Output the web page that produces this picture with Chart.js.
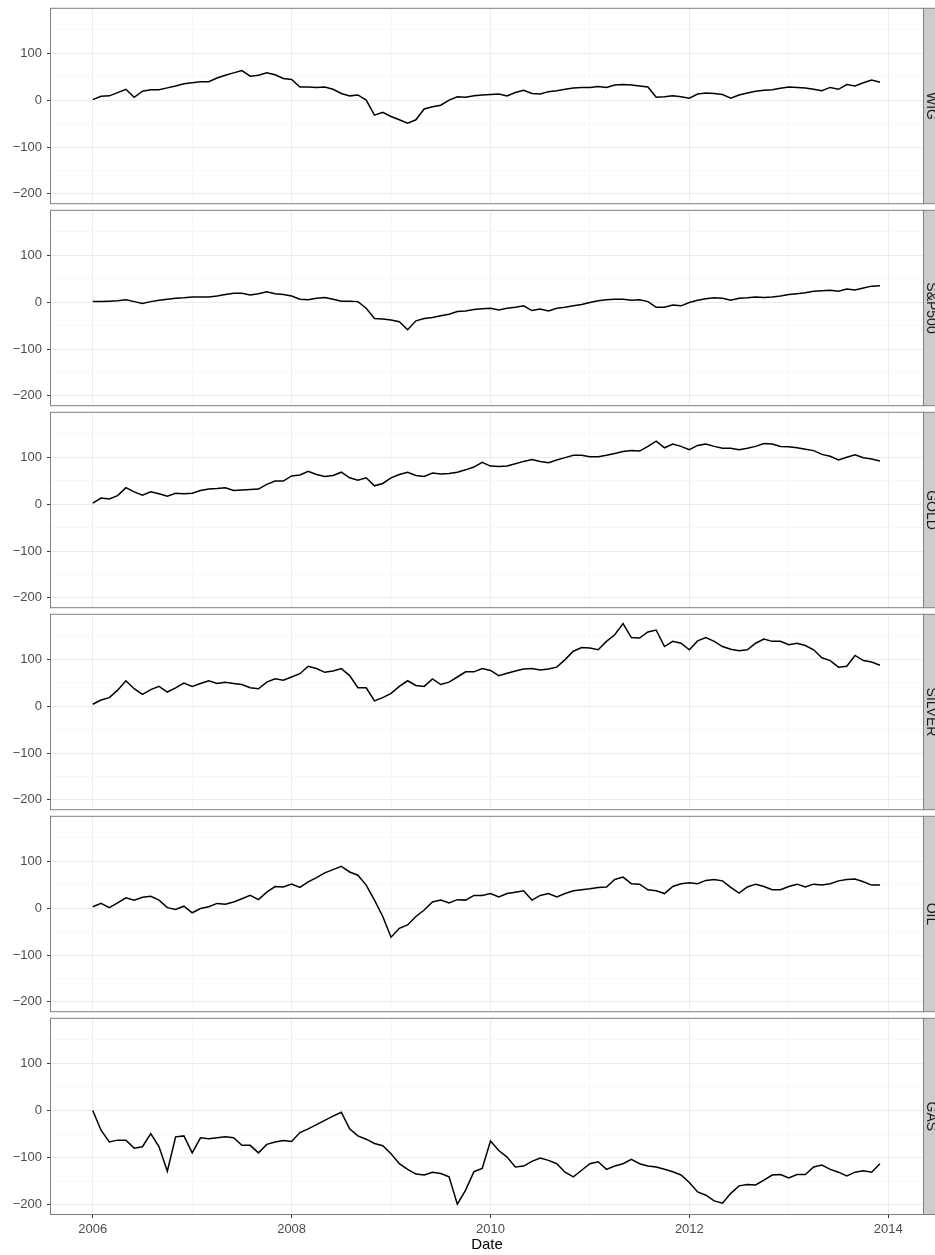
<!DOCTYPE html>
<html>
<head>
<meta charset="utf-8">
<script src="https://cdn.jsdelivr.net/npm/chart.js@4.4.1/dist/chart.umd.min.js"></script>
<style>
  body { margin: 0; background: #fff; width: 935px; height: 1255px; overflow: hidden; position: relative; }
  canvas { position: absolute; left: 0; }
</style>
</head>
<body>
<script>
// monthly observations, Jan 2006 .. Dec 2013 (% change since start)
var dates = [];
for (var m = 0; m < 96; m++) dates.push(2006 + m / 12);

var wig = [1, 8, 9, 16, 23, 6, 19, 22, 22, 26, 30, 35,
           37, 39, 39, 47, 53, 58, 63, 51, 53, 58, 54, 46,
           44, 28, 28, 27, 28, 23, 14, 9, 11, 0, -32, -26,
           -35, -42, -49, -42, -19, -14, -11, 0, 7, 6, 9, 11,
           12, 13, 9, 16, 21, 14, 13, 18, 20, 23, 26, 27,
           27, 29, 27, 32, 33, 32, 30, 28, 6, 7, 9, 7,
           4, 13, 15, 14, 12, 4, 11, 15, 19, 21, 22, 25,
           28, 27, 26, 23, 20, 27, 23, 33, 30, 37, 43, 38];

var sp500 = [1, 1, 2, 3, 5, 1, -3, 1, 4, 6, 8, 9,
             11, 11, 11, 13, 16, 19, 19, 15, 18, 22, 18, 16,
             13, 6, 5, 8, 10, 6, 2, 2, 1, -13, -35, -36,
             -38, -42, -59, -40, -35, -33, -29, -26, -20, -19, -16, -14,
             -13, -17, -13, -11, -8, -18, -15, -19, -13, -11, -8, -5,
             -1, 3, 5, 6, 6, 4, 5, 1, -11, -11, -6, -8,
             -1, 4, 7, 9, 8, 4, 8, 9, 11, 10, 11, 13,
             16, 18, 20, 23, 24, 25, 23, 28, 26, 30, 34, 35];

var gold = [2, 13, 11, 18, 35, 26, 19, 26, 22, 17, 23, 22,
            23, 29, 32, 33, 35, 29, 30, 31, 32, 42, 49, 49,
            60, 62, 70, 63, 59, 61, 68, 56, 51, 56, 39, 44,
            56, 63, 68, 61, 59, 66, 64, 65, 68, 73, 79, 89,
            81, 80, 81, 86, 91, 95, 91, 88, 94, 99, 104, 104,
            101, 101, 104, 108, 112, 114, 113, 123, 134, 120, 128, 123,
            116, 125, 128, 123, 119, 119, 116, 119, 123, 129, 128, 123,
            122, 120, 117, 114, 106, 102, 94, 100, 105, 99, 96, 92];

var silver = [4, 13, 18, 34, 54, 37, 25, 35, 42, 30, 39, 49,
              42, 48, 54, 48, 51, 48, 46, 39, 37, 51, 58, 55,
              62, 69, 85, 80, 72, 75, 80, 65, 39, 39, 11, 18,
              27, 42, 54, 44, 42, 58, 46, 51, 62, 73, 73, 80,
              76, 65, 70, 75, 79, 80, 77, 79, 83, 99, 117, 125,
              124, 120, 138, 152, 176, 146, 145, 158, 162, 127, 138, 134,
              120, 139, 146, 138, 127, 121, 118, 120, 134, 143, 138, 138,
              131, 134, 129, 120, 103, 97, 83, 85, 108, 97, 94, 87];

var oil = [3, 10, 1, 11, 22, 17, 23, 25, 17, 1, -3, 4,
           -10, -1, 3, 10, 8, 13, 20, 27, 18, 34, 46, 45,
           51, 44, 56, 65, 75, 82, 89, 77, 70, 49, 17, -18,
           -62, -43, -36, -18, -4, 13, 17, 11, 18, 17, 27, 27,
           31, 24, 31, 34, 37, 17, 27, 31, 24, 31, 37, 39,
           41, 44, 45, 61, 66, 52, 51, 39, 37, 31, 46, 52,
           54, 52, 59, 61, 58, 44, 32, 45, 51, 46, 39, 39,
           46, 51, 45, 51, 49, 52, 58, 61, 62, 56, 49, 49];

var gas = [0, -42, -67, -63, -63, -80, -77, -49, -77, -129, -56, -54,
           -90, -58, -60, -58, -56, -58, -74, -74, -90, -72, -67, -64,
           -66, -47, -39, -30, -21, -12, -4, -39, -54, -61, -70, -75,
           -92, -113, -125, -135, -137, -131, -134, -141, -199, -169, -130, -123,
           -65, -85, -99, -120, -118, -108, -101, -106, -113, -131, -141, -127,
           -113, -109, -125, -118, -113, -104, -113, -118, -120, -125, -130, -137,
           -153, -173, -180, -192, -197, -176, -160, -157, -158, -148, -137, -136,
           -143, -136, -136, -120, -116, -125, -131, -139, -131, -128, -131, -113];

var panelNames = ['WIG', 'S&P500', 'GOLD', 'SILVER', 'OIL', 'GAS'];
var panelSeries = [wig, sp500, gold, silver, oil, gas];
var yBreaks = [-200, -150, -100, -50, 0, 50, 100, 150];
var xBreaks = [2006, 2007, 2008, 2009, 2010, 2011, 2012, 2013, 2014];

var FONT = '"Liberation Sans", Arial, sans-serif';
var GRID_MAJOR = '#EBEBEB';
var GRID_MINOR = '#F7F7F7';
var PANEL_TOP = 8, PANEL_H = 196, PANEL_STEP = 202, PAD = 12;

// panel border + facet strip on the right
var panelFrame = {
  id: 'panelFrame',
  afterDraw: function (chart, args, opts) {
    var a = chart.chartArea, ctx = chart.ctx;
    ctx.save();
    ctx.strokeStyle = '#7F7F7F';
    ctx.lineWidth = 1;
    ctx.strokeRect(a.left - 0.5, a.top - 0.5, a.right - a.left + 1, a.bottom - a.top + 1);
    ctx.fillStyle = '#CCCCCC';
    ctx.fillRect(a.right + 0.5, a.top - 0.5, 30, a.bottom - a.top + 1);
    ctx.strokeRect(a.right + 0.5, a.top - 0.5, 30, a.bottom - a.top + 1);
    ctx.fillStyle = '#1A1A1A';
    ctx.font = '14px ' + FONT;
    ctx.translate(a.right + 4, (a.top + a.bottom) / 2);
    ctx.rotate(Math.PI / 2);
    ctx.textAlign = 'center';
    ctx.textBaseline = 'alphabetic';
    ctx.fillText(opts.label, 0, 0);
    ctx.restore();
  }
};

function fmtY(v) {
  if (v % 100 !== 0) return '';
  return v < 0 ? '\u2212' + (-v) : String(v);
}

panelNames.forEach(function (name, k) {
  var last = k === panelNames.length - 1;
  var top = PANEL_TOP + k * PANEL_STEP - PAD;
  var h = last ? 1255 - top : PANEL_H + 2 * PAD;

  var canvas = document.createElement('canvas');
  canvas.width = 935;
  canvas.height = h;
  canvas.style.top = top + 'px';
  document.body.appendChild(canvas);

  var values = panelSeries[k];
  var points = dates.map(function (d, i) { return { x: d, y: values[i] }; });

  new Chart(canvas, {
    type: 'line',
    data: {
      datasets: [{
        label: name,
        data: points,
        borderColor: '#000000',
        borderWidth: 1.5,
        pointRadius: 0,
        fill: false,
        tension: 0
      }]
    },
    options: {
      responsive: false,
      animation: false,
      events: [],
      layout: { padding: { top: PAD, bottom: last ? 0 : PAD, left: 0, right: 12 } },
      plugins: {
        legend: { display: false },
        tooltip: { enabled: false },
        panelFrame: { label: name }
      },
      scales: {
        x: {
          type: 'linear',
          min: 2005.58,
          max: 2014.35,
          afterBuildTicks: function (s) { s.ticks = xBreaks.map(function (v) { return { value: v }; }); },
          afterFit: function (s) { s.height = last ? 41 : 0; },
          border: { display: false },
          grid: {
            color: function (c) { return c.tick.value % 2 === 0 ? GRID_MAJOR : GRID_MINOR; },
            lineWidth: 1,
            drawTicks: last,
            tickLength: 4,
            tickWidth: 1,
            tickColor: function (c) { return c.tick.value % 2 === 0 ? '#333333' : 'rgba(0,0,0,0)'; }
          },
          ticks: {
            display: last,
            autoSkip: false,
            maxRotation: 0,
            padding: 4,
            color: '#4D4D4D',
            font: { family: FONT, size: 13 },
            callback: function (v) { return v % 2 === 0 ? String(v) : ''; }
          },
          title: {
            display: last,
            text: 'Date',
            color: '#000000',
            font: { family: FONT, size: 15 },
            padding: { top: 0, bottom: 1 }
          }
        },
        y: {
          min: -219.8,
          max: 194.6,
          afterBuildTicks: function (s) { s.ticks = yBreaks.map(function (v) { return { value: v }; }); },
          afterFit: function (s) { s.width = 51; },
          border: { display: false },
          grid: {
            color: function (c) { return c.tick.value % 100 === 0 ? GRID_MAJOR : GRID_MINOR; },
            lineWidth: 1,
            tickLength: 4,
            tickWidth: 1,
            tickColor: function (c) { return c.tick.value % 100 === 0 ? '#333333' : 'rgba(0,0,0,0)'; }
          },
          ticks: {
            autoSkip: false,
            padding: 5,
            color: '#4D4D4D',
            font: { family: FONT, size: 13 },
            callback: fmtY
          }
        }
      }
    },
    plugins: [panelFrame]
  });
});
</script>
</body>
</html>
